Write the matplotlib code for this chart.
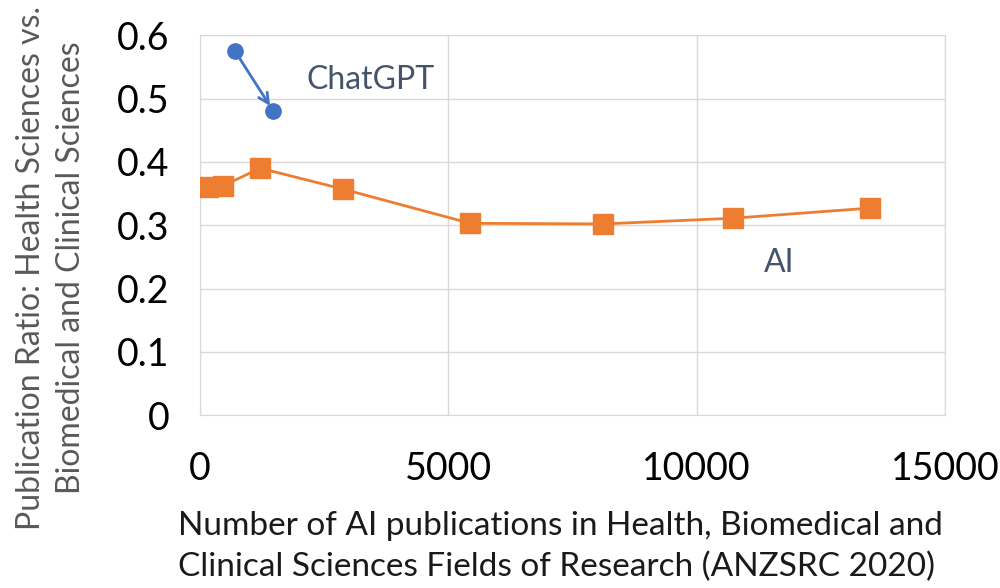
import numpy as np
import matplotlib.pyplot as plt

# AI series: publications vs ratio
ai_x = [160, 460, 1210, 2880, 5440, 8120, 10730, 13490]
ai_y = [0.360, 0.362, 0.390, 0.357, 0.303, 0.302, 0.311, 0.327]

# ChatGPT series
gpt_x = [705, 1470]
gpt_y = [0.575, 0.481]

orange = '#ED7D31'
blue = '#4472C4'
txt = '#44546A'
grey = '#595959'

plt.rcParams['font.family'] = ['Lato', 'DejaVu Sans']

fig = plt.figure(figsize=(10, 5.88), dpi=100)
ax = fig.add_axes([0.2, 0.294, 0.745, 0.646])

ax.plot(ai_x, ai_y, color=orange, lw=2, marker='s', ms=14, zorder=3)
ax.plot(gpt_x, gpt_y, 'o', color=blue, ms=11, zorder=3)
ax.annotate('', xy=(gpt_x[1], gpt_y[1]), xytext=(gpt_x[0], gpt_y[0]),
            arrowprops=dict(arrowstyle='->', color=blue, lw=2,
                            shrinkA=0, shrinkB=4, mutation_scale=18))

ax.text(2150, 0.53, 'ChatGPT', color=txt, fontsize=23, va='center')
ax.text(11350, 0.24, 'AI', color=txt, fontsize=23, va='center')

ax.set_xlim(0, 15000)
ax.set_ylim(0, 0.6)
ax.set_xticks([0, 5000, 10000, 15000])
ax.set_yticks([0, 0.1, 0.2, 0.3, 0.4, 0.5, 0.6])
ax.set_yticklabels(['0', '0.1', '0.2', '0.3', '0.4', '0.5', '0.6'])
ax.tick_params(length=0, labelsize=27, colors='black')
ax.tick_params(axis='x', pad=26)
ax.tick_params(axis='y', pad=22)
ax.grid(True, color='#D9D9D9', lw=1)
for s in ax.spines.values():
    s.set_color('#D9D9D9')

fig.text(0.051, 0.544, 'Publication Ratio: Health Sciences vs.\nBiomedical and Clinical Sciences',
         rotation=90, ha='center', va='center', fontsize=23, color=grey, linespacing=1.4)
fig.text(0.178, 0.07, 'Number of AI publications in Health, Biomedical and\nClinical Sciences Fields of Research (ANZSRC 2020)',
         ha='left', va='center', fontsize=24, color='#1a1a1a', linespacing=1.45)

fig.savefig('out.png', dpi=100)
